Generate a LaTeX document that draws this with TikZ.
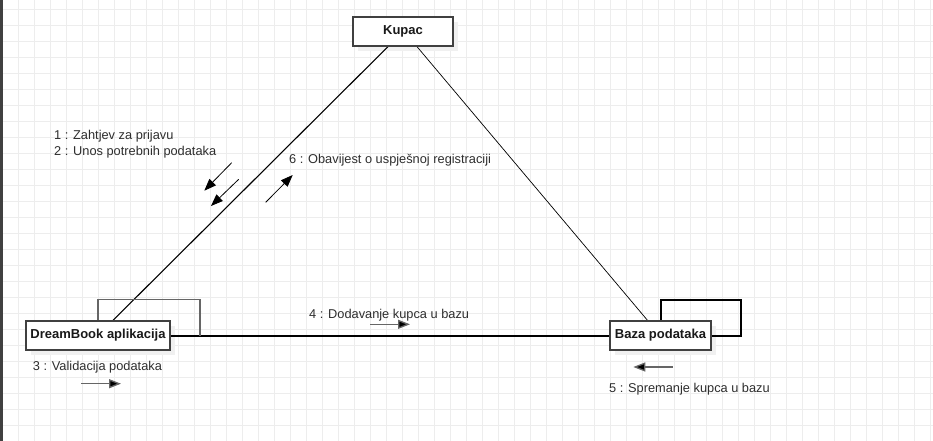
\documentclass[tikz,border=0pt]{standalone}
\usepackage{fontspec}
\setmainfont{Liberation Sans}
\usetikzlibrary{arrows.meta,shadows,calc}
\begin{document}
\begin{tikzpicture}[x=1pt,y=-1pt,
  box/.style={draw=black!75, line width=1.3pt, fill=white, minimum height=29pt, inner sep=0pt,
    font=\fontsize{13}{15}\selectfont\bfseries, text=black!90},
  shadowbox/.style={box, drop shadow={shadow xshift=5pt,shadow yshift=-5pt,fill=black!6,opacity=1}},
  lbl/.style={anchor=base west, inner sep=0pt, font=\fontsize{12.8}{15}\selectfont, text=black!82},
  msg/.style={-{Triangle[length=12pt,width=9pt]}, line width=0.8pt},
  grayline/.style={black!60, line width=1.3pt},
]
\useasboundingbox (0,0) rectangle (933,441);
\fill[white] (0,0) rectangle (933,441);
\foreach \x in {2,18,...,930} \draw[black!7, line width=0.8pt] (\x,0) -- (\x,441);
\foreach \y in {9,25,...,441} \draw[black!7, line width=0.8pt] (0,\y) -- (933,\y);
\fill[black!75] (0,0) rectangle (2.5,441);

\coordinate (kupacC) at (403,31.5);
\coordinate (dreamC) at (98,335.5);
\coordinate (bazaC) at (660.5,335.5);

% nodes with shadows first
\node[shadowbox, minimum width=100pt] (kupac) at (kupacC) {Kupac};
\node[shadowbox, minimum width=144pt] (dream) at (dreamC) {DreamBook aplikacija};
\node[shadowbox, minimum width=101pt] (baza) at (bazaC) {Baza podataka};

% links
\draw[line width=1.1pt] ($(kupac.south)+(-15,0)$) -- ($(dream.north)+(15,0)$);
\draw[line width=0.7pt] ($(kupac.south)+(14,0)$) -- ($(baza.north)+(-13,0)$);
\draw[line width=2pt] (dream.east) -- (baza.west);

\coordinate (dloop) at (200,335.5);
\draw[grayline] (dream.north) -- ++(0,-21) -| (dloop);
\draw[line width=2pt] (baza.north) -- ++(0,-20.5) -| ($(baza.east)+(29.5,0)$) -- (baza.east);

% redraw node faces on top of link ends
\node[box, minimum width=100pt] (kupacF) at (kupacC) {Kupac};
\node[box, minimum width=144pt] (dreamF) at (dreamC) {DreamBook aplikacija};
\node[box, minimum width=101pt] (bazaF) at (bazaC) {Baza podataka};

% message arrows
\coordinate (m1s) at (231.7,162.7); \coordinate (m1e) at (204.3,190.7);
\coordinate (m2s) at (238.7,179.3); \coordinate (m2e) at (211,206);
\coordinate (m6s) at (265.7,202.3); \coordinate (m6e) at (292.7,175);
\coordinate (m3s) at (81,383.7);    \coordinate (m3e) at (121,383.7);
\coordinate (m4s) at (370,324.3);   \coordinate (m4e) at (410,324.3);
\coordinate (m5s) at (672.7,367);   \coordinate (m5e) at (633.3,367);
\draw[msg] (m1s) -- (m1e);
\draw[msg] (m2s) -- (m2e);
\draw[msg] (m6s) -- (m6e);
\draw[msg, draw=black!60, line width=1.3pt, -{Triangle[length=12pt,width=9pt,fill=black]}] (m3s) -- (m3e);
\draw[msg, draw=black!60, line width=1.3pt, -{Triangle[length=12pt,width=9pt,fill=black]}] (m4s) -- (m4e);
\draw[msg, draw=black!60, line width=1.3pt, -{Triangle[length=12pt,width=9pt,fill=black]}] (m5s) -- (m5e);

% labels
\node[lbl] (l1) at (54,139.3) {1 : Zahtjev za prijavu};
\node[lbl] (l2) at (54,155) {2 : Unos potrebnih podataka};
\node[lbl] (l6) at (289,163.3) {6 : Obavijest o uspješnoj registraciji};
\node[lbl] (l3) at (32.7,370) {3 : Validacija podataka};
\node[lbl] (l4) at (309,318.3) {4 : Dodavanje kupca u bazu};
\node[lbl] (l5) at (609,392.7) {5 : Spremanje kupca u bazu};
\end{tikzpicture}
\end{document}
